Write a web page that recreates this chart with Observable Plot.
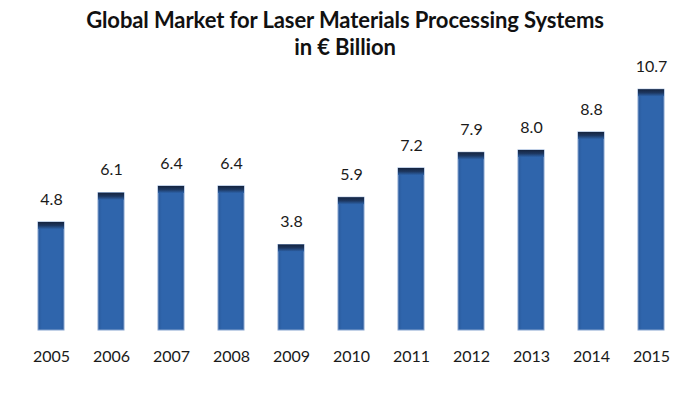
<!DOCTYPE html>
<html><head><meta charset="utf-8">
<script src="https://cdn.jsdelivr.net/npm/d3@7"></script>
<script src="https://cdn.jsdelivr.net/npm/@observablehq/plot@0.6"></script>
<style>
body{margin:0;background:#fff;font-family:Lato,"Open Sans",sans-serif;}
#wrap{width:690px;height:397px;position:relative;}
#title{height:50px;overflow:visible;text-align:center;font-weight:bold;font-size:22px;line-height:27px;color:#111;padding-top:6px;box-sizing:border-box;letter-spacing:-0.1px;white-space:nowrap;position:relative;z-index:1;}
</style></head><body>
<svg width="0" height="0" style="position:absolute">
<defs>
<linearGradient id="capGrad" x1="0" y1="0" x2="0" y2="1">
<stop offset="0" stop-color="#15243f"/>
<stop offset="0.5" stop-color="#1d3760"/>
<stop offset="1" stop-color="#2d62a8"/>
</linearGradient>
<linearGradient id="barGrad" x1="0" y1="0" x2="1" y2="0">
<stop offset="0" stop-color="#2a5a9c"/>
<stop offset="0.15" stop-color="#2f65ac"/>
<stop offset="0.85" stop-color="#2f65ac"/>
<stop offset="1" stop-color="#2a5a9c"/>
</linearGradient>
</defs></svg>
<div id="wrap"><div id="title">Global Market for Laser Materials Processing Systems<br>in € Billion</div><div id="chart"></div></div>
<script>
const years = ["2005","2006","2007","2008","2009","2010","2011","2012","2013","2014","2015"];
const values = [4.8, 6.1, 6.4, 6.4, 3.8, 5.9, 7.2, 7.9, 8.0, 8.8, 10.7];
const labels = ["4.8","6.1","6.4","6.4","3.8","5.9","7.2","7.9","8.0","8.8","10.7"];
const data = years.map((y,i)=>({year:y, value:values[i], label:labels[i]}));

const chart = Plot.plot({
  width: 690, height: 347,
  marginLeft: 23, marginRight: 12, marginTop: 10, marginBottom: 67,
  style: {fontFamily: "Lato, 'Open Sans', sans-serif", background: "transparent", overflow: "visible"},
  x: {domain: years, paddingInner: 0.57, paddingOuter: 0.2, label: null, tickSize: 0, tickPadding: 20},
  y: {domain: [0, 12], axis: null},
  marks: [
    Plot.barY(data, {x: "year", y: "value", fill: "url(#barGrad)", stroke: "#86a4cf", strokeWidth: 1}),
    Plot.barY(data, {x: "year", y1: "value", y2: "value", insetBottom: -7, fill: "url(#capGrad)"}),
    Plot.text(data, {x: "year", y: "value", text: "label", dy: -23, fontSize: 16, fill: "#1a1a1a"}),
    Plot.axisX({tickSize: 0, tickPadding: 20, fontSize: 16, label: null, fill: "#1a1a1a"})
  ]
});
document.getElementById("chart").appendChild(chart);
</script>
</body></html>
